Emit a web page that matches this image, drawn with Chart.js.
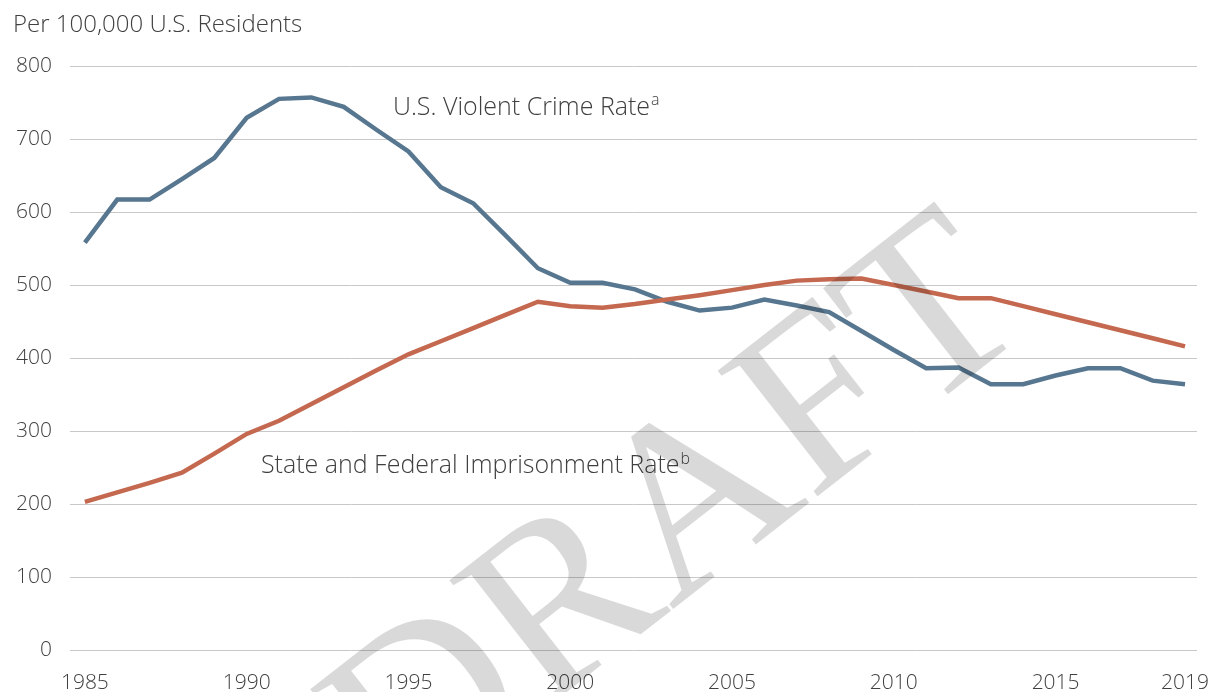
<!DOCTYPE html>
<html>
<head>
<meta charset="utf-8">
<script src="https://cdn.jsdelivr.net/npm/chart.js@4.4.1/dist/chart.umd.min.js"></script>
<style>
  html, body { margin: 0; padding: 0; background: #fff; }
  canvas { display: block; }
</style>
</head>
<body>
<canvas id="chart" width="1215" height="692"></canvas>
<script>
const years = [
  1985, 1986, 1987, 1988, 1989, 1990, 1991, 1992, 1993, 1994,
  1995, 1996, 1997, 1998, 1999, 2000, 2001, 2002, 2003, 2004,
  2005, 2006, 2007, 2008, 2009, 2010, 2011, 2012, 2013, 2014,
  2015, 2016, 2017, 2018, 2019
];
// violent crime per 100,000 residents
const violentCrime = [
  558, 617, 617, 645, 674, 729, 755, 757, 744, 713,
  683, 634, 612, 568, 523, 503, 503, 494, 477, 465,
  469, 480, 472, 463, 437, 411, 386, 387, 364, 364,
  376, 386, 386, 369, 364
];
// state + federal prisoners per 100,000 residents
const imprisonment = [
  203, 216, 229, 243, 269, 296, 314, 337, 360, 383,
  405, 423, 441, 459, 477, 471, 469, 474, 480, 486,
  493, 500, 506, 508, 509, 500, 491, 482, 482, 471,
  460, 449, 438, 427, 416
];
const xTicks = [1985, 1990, 1995, 2000, 2005, 2010, 2015, 2019];
const yTicks = [0, 100, 200, 300, 400, 500, 600, 700, 800];

const seriesLabels = [
  { text: 'U.S. Violent Crime Rate', sup: 'a', year: 1994.52, value: 743 },
  { text: 'State and Federal Imprisonment Rate', sup: 'b', year: 1990.44, value: 252 }
];

const FONT = "'Open Sans', 'Segoe UI', sans-serif";
const TEXT_COLOR = '#404040';

const labelsPlugin = {
  id: 'seriesLabels',
  afterDatasetsDraw(chart) {
    const {ctx, scales: {x, y}} = chart;
    ctx.save();
    ctx.fillStyle = TEXT_COLOR;
    ctx.textBaseline = 'middle';
    ctx.textAlign = 'left';
    seriesLabels.forEach(l => {
      const px = x.getPixelForValue(l.year);
      const py = y.getPixelForValue(l.value);
      ctx.font = `300 25px ${FONT}`;
      ctx.fillText(l.text, px, py);
      const w = ctx.measureText(l.text).width;
      ctx.font = `300 16px ${FONT}`;
      ctx.fillText(l.sup, px + w + 1, py - 7);
    });
    // title above the value axis
    ctx.font = `300 24px ${FONT}`;
    ctx.fillText('Per 100,000 U.S. Residents', 13, 25);
    ctx.restore();
  }
};

const watermarkPlugin = {
  id: 'draftMark',
  afterDraw(chart) {
    const {ctx} = chart;
    ctx.save();
    ctx.translate(680, 522);
    ctx.rotate(-38 * Math.PI / 180);
    ctx.fillStyle = 'rgba(0, 0, 0, 0.15)';
    ctx.font = "245px 'Liberation Serif', 'Times New Roman', serif";
    ctx.textAlign = 'center';
    ctx.textBaseline = 'middle';
    ctx.fillText('DRAFT', 0, 0);
    ctx.restore();
  }
};

new Chart(document.getElementById('chart'), {
  type: 'line',
  data: {
    datasets: [
      {
        label: 'State and Federal Imprisonment Rate',
        data: years.map((yr, i) => ({x: yr, y: imprisonment[i]})),
        borderColor: '#c4684f',
        borderWidth: 4.5,
        pointRadius: 0,
        tension: 0
      },
      {
        label: 'U.S. Violent Crime Rate',
        data: years.map((yr, i) => ({x: yr, y: violentCrime[i]})),
        borderColor: '#57768f',
        borderWidth: 4.5,
        pointRadius: 0,
        tension: 0
      }
    ]
  },
  options: {
    responsive: false,
    animation: false,
    devicePixelRatio: 1,
    layout: {padding: {top: 66, right: 18, bottom: 0, left: 0}},
    plugins: {
      legend: {display: false},
      tooltip: {enabled: false}
    },
    scales: {
      x: {
        type: 'linear',
        min: 1984.54,
        max: 2019.37,
        grid: {display: false, drawTicks: false},
        border: {display: false},
        afterBuildTicks: scale => { scale.ticks = xTicks.map(v => ({value: v})); },
        afterFit: scale => {
          scale.height = 42;
          scale.paddingLeft = 0;
          scale.paddingRight = 0;
        },
        ticks: {
          autoSkip: false,
          maxRotation: 0,
          padding: 20,
          color: TEXT_COLOR,
          font: {family: FONT, size: 21, weight: 300},
          callback: v => String(v)
        }
      },
      y: {
        min: 0,
        max: 800,
        grid: {color: '#c8c8c8', lineWidth: 1, drawTicks: false},
        border: {display: false},
        afterBuildTicks: scale => { scale.ticks = yTicks.map(v => ({value: v})); },
        afterFit: scale => { scale.width = 70; },
        ticks: {
          padding: 18,
          color: TEXT_COLOR,
          font: {family: FONT, size: 21, weight: 300}
        }
      }
    }
  },
  plugins: [labelsPlugin, watermarkPlugin]
});
</script>
</body>
</html>
